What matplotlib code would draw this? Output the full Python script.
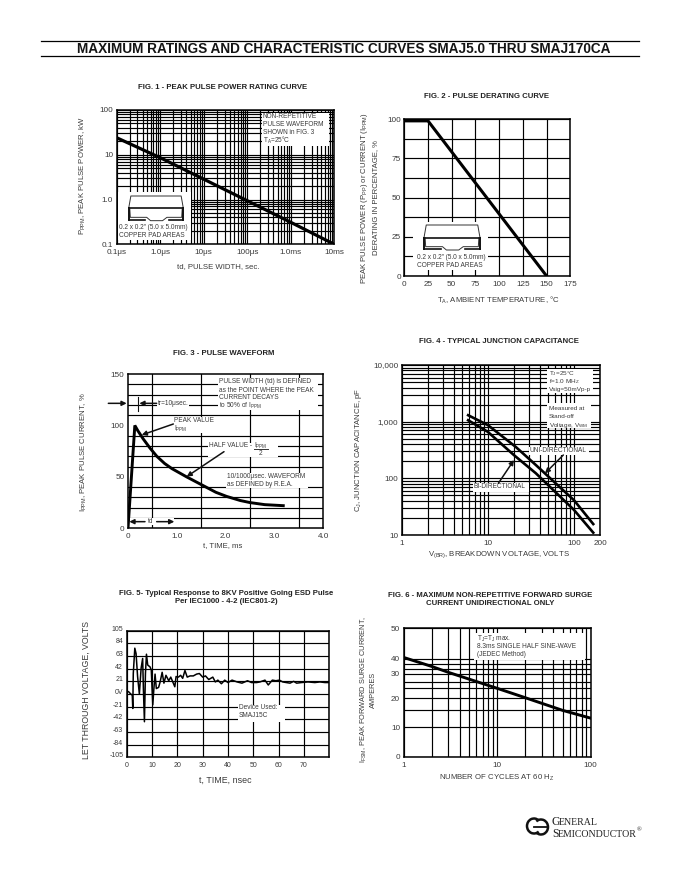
import numpy as np
import matplotlib
matplotlib.use("Agg")
import matplotlib.pyplot as plt
from matplotlib.patches import Rectangle, Arc
from matplotlib.ticker import NullFormatter, FixedLocator, LogLocator
from matplotlib.transforms import ScaledTranslation

plt.rcParams['font.family'] = ['Liberation Sans', 'DejaVu Sans']
plt.rcParams['mathtext.fontset'] = 'custom'
plt.rcParams['mathtext.rm'] = 'Liberation Sans'
plt.rcParams['mathtext.default'] = 'rm'

# ---------- data ----------
fig1_width_us = [0.1, 1.0, 10, 100, 1000, 10000]
fig1_power_kw = [24.0, 8.6, 2.85, 0.94, 0.31, 0.10]
fig1_xlabels = ['0.1μs', '1.0μs', '10μs', '100μs', '1.0ms', '10ms']
fig1_yticks = [0.1, 1, 10, 100]
fig1_ylabels = ['0.1', '1.0', '10', '100']

fig2_temp = [0, 25, 150]
fig2_pct = [99, 99, 0]
fig2_xticks = [0, 25, 50, 75, 100, 125, 150, 175]
fig2_yticks = [0, 25, 50, 75, 100]
fig2_ygrid = [12.5, 37.5, 62.5, 87.5]

fig3_t = [0, 0.14, 0.2, 0.31, 0.45, 0.59, 0.75, 0.9, 1.05, 1.2, 1.4, 1.54, 1.8, 2.02, 2.3, 2.5, 2.8, 3.18]
fig3_i = [0, 100, 95, 87, 78, 70, 63, 58, 54, 50, 45, 41.5, 35, 31, 27, 25, 23, 22]
fig3_xticks = [0, 1, 2, 3, 4]
fig3_xlabels = ['0', '1.0', '2.0', '3.0', '4.0']
fig3_yticks = [0, 50, 100, 150]
fig3_xgrid = [0.5, 1, 1.5, 2, 2.5, 3, 3.5]
fig3_ygrid = [10, 20, 30, 40, 50, 60, 70, 80, 90, 100, 110, 120, 130, 140]

fig4_v_uni = [5.9, 10, 21, 36, 100, 167]
fig4_c_uni = [1300, 870, 360, 172, 41, 15.6]
fig4_v_bi = [5.9, 10, 20, 36, 100, 167]
fig4_c_bi = [1060, 660, 258, 123, 27.6, 11]
fig4_xticks = [1, 10, 100, 200]
fig4_yticks = [10, 100, 1000, 10000]
fig4_ylabels = ['10', '100', '1,000', '10,000']

fig5_t = [0, 0.7, 1.6, 2.2, 2.4, 2.6, 3.2, 3.7, 4.3, 5.0, 5.7, 6.3, 6.6, 7.0, 7.4, 7.8, 8.3, 9.2, 9.7, 10.3,
          10.7, 11.2, 11.7, 12.6, 13.2, 14, 14.7, 15.5, 16.6, 17.4, 18.2, 19, 19.5, 20.4, 21.3, 22.1, 23, 23.9,
          25, 26.3, 27.6, 28.7, 30, 31.1, 32.4, 34, 35, 36, 37.4, 38.7, 40, 41.6, 43.6, 45.5, 47.7, 49.3, 51.3,
          52.6, 54.6, 55.9, 57.5, 58.9, 60.3, 61.6, 63, 64.5, 65.9, 67.1, 69, 71.6, 74.3, 76.3, 78.3, 80]
fig5_v = [4, 4, 0, -2, -24, 34, 76, 67, 29, 0, 43, 59, 7, -46, 34, 66, 48, 45, 40, -18,
          7, 33, 9, 11, 20, 36, 18, 31, 22, 28, 20, 12, 29, 28, 31, 26, 39, 28,
          30, 30, 33, 34, 28, 30, 24, 28, 20, 23, 17, 23, 19, 23, 20, 18, 22, 19, 19,
          20, 23, 15, 23, 22, 23, 20, 19, 18, 21, 18, 19, 20, 19, 20, 19, 19]
fig5_yticks = [-105, -84, -63, -42, -21, 0, 21, 42, 63, 84, 105]
fig5_ylabels = ['-105', '-84', '-63', '-42', '-21', '0V', '21', '42', '63', '84', '105']
fig5_xticks = [0, 10, 20, 30, 40, 50, 60, 70]

fig6_cycles = [1, 2, 3, 5, 10, 20, 50, 100]
fig6_amps = [40.5, 34.5, 31, 28, 25, 20.3, 15, 12.7]
fig6_yticks = [0, 10, 20, 30, 40, 50]
fig6_ygrid = [15, 20, 25, 27, 30, 33, 36, 40]
fig6_xticks = [1, 10, 100]
fig6_scale_values = [0, 10, 15, 20, 25, 27, 30, 33, 36, 40, 50]
fig6_scale_pos = [0, 88, 139, 175, 205, 225, 248, 263, 278, 293, 385]

TXT = '#3a3a3a'
W, H = 680, 880
fig = plt.figure(figsize=(W / 100, H / 100), dpi=100, facecolor='white')
ov = fig.add_axes([0, 0, 1, 1], zorder=10)
ov.set_xlim(0, W)
ov.set_ylim(H, 0)
ov.axis('off')
ov.patch.set_alpha(0)


def make_axes(left, top, right, bottom):
    ax = fig.add_axes([left / W, 1 - bottom / H, (right - left) / W, (bottom - top) / H])
    for s in ax.spines.values():
        s.set_linewidth(1.1)
    ax.set_axisbelow(True)
    ax.tick_params(which='both', length=0, labelsize=5.9, labelcolor=TXT, pad=2.5)
    ax.tick_params(axis='x', pad=3.5)
    return ax


def labels(ax, box, title, tp, xl, xp, yl, yp, fs=5.6, yfs=None, tfs=5.6):
    left, top, right, bottom = box
    ax.set_title(title, x=(tp[0] - left) / (right - left), y=(bottom - tp[1]) / (bottom - top),
                 va='center', ha='center', fontsize=tfs, fontweight='bold', color='#222222', linespacing=1.3)
    ax.set_xlabel(xl, fontsize=fs, color=TXT, va='center', ha='center')
    ax.set_ylabel(yl, fontsize=yfs or fs, color=TXT, va='center', ha='center', linespacing=1.25)
    ax.xaxis.set_label_coords(xp[0], xp[1], transform=ov.transData)
    ax.yaxis.set_label_coords(yp[0], yp[1], transform=ov.transData)


def P(org, x, y):
    return org[0] + x / 3, org[1] + y / 3


def box(org, x0, y0, x1, y1):
    a = P(org, x0, y0)
    b = P(org, x1, y1)
    ov.add_patch(Rectangle(a, b[0] - a[0], b[1] - a[1], fc='white', ec='none', zorder=2))


def note(org, x, y, s, fs=4.7, ha='left'):
    px, py = P(org, x, y)
    ov.text(px, py, s, fontsize=fs, color=TXT, ha=ha, va='center', zorder=4)


def arrow(org, a, b):
    ov.annotate('', xy=P(org, *b), xytext=P(org, *a),
                arrowprops=dict(arrowstyle='-|>', color='#111111', lw=1.1, mutation_scale=7,
                                shrinkA=0, shrinkB=0), zorder=5)


def package(org, x0, x1, ytop, ymid, ybot):
    w = x1 - x0
    pts = [(x0, ymid), (x0 + .04 * w, ytop), (x1 - .04 * w, ytop), (x1, ymid)]
    xy = [P(org, *p) for p in pts]
    ov.plot(*zip(*xy), color='#333333', lw=0.7, zorder=3, solid_capstyle='butt')
    pts = [(x0 + .02 * w, ymid), (x0 + .03 * w, ybot - 8), (x0 + .33 * w, ybot - 8), (x0 + .40 * w, ybot + 2),
           (x0 + .62 * w, ybot + 2), (x0 + .70 * w, ybot - 8), (x1 - .03 * w, ybot - 8), (x1 - .02 * w, ymid)]
    xy = [P(org, *p) for p in pts]
    ov.plot(*zip(*xy), color='#333333', lw=0.7, zorder=3)
    a = P(org, x0, ymid)
    b = P(org, x1, ymid)
    ov.plot([a[0], b[0]], [a[1], b[1]], color='#111111', lw=1.2, zorder=3)
    for xs in ((x0, x0 + .30 * w), (x1 - .27 * w, x1)):
        c = P(org, xs[0], ybot)
        d = P(org, xs[1], ybot)
        ov.plot([c[0], d[0]], [c[1], d[1]], color='#111111', lw=1.2, zorder=3)
    for xv in (x0, x1):
        c = P(org, xv, ymid)
        d = P(org, xv, ybot)
        ov.plot([c[0], d[0]], [c[1], d[1]], color='#111111', lw=1.4, zorder=3)


# header
ov.plot([41, 639], [41, 41], color='black', lw=0.9)
ov.plot([41, 639], [56, 56], color='black', lw=0.9)
ov.text(343.5, 49, 'MAXIMUM RATINGS AND CHARACTERISTIC CURVES SMAJ5.0 THRU SMAJ170CA',
        fontsize=9.85, fontweight='bold', color='#151515', ha='center', va='center')

# ---------- Fig 1 ----------
O1 = (70, 85)
b1 = (116.7, 110, 334.3, 244.3)
ax = make_axes(*b1)
ax.set_xscale('log')
ax.set_yscale('log')
ax.plot(fig1_width_us, fig1_power_kw, color='black', lw=2.3, solid_capstyle='butt', zorder=3)
ax.set_xlim(0.1, 10000)
ax.set_ylim(0.1, 100)
ax.set_xticks(fig1_width_us, fig1_xlabels)
ax.set_yticks(fig1_yticks, fig1_ylabels)
ax.xaxis.set_minor_locator(LogLocator(base=10, subs=range(2, 10), numticks=20))
ax.yaxis.set_minor_locator(LogLocator(base=10, subs=range(2, 10), numticks=20))
ax.xaxis.set_minor_formatter(NullFormatter())
ax.yaxis.set_minor_formatter(NullFormatter())
ax.grid(True, which='both', color='black', lw=0.85)
labels(ax, b1, 'FIG. 1 - PEAK PULSE POWER RATING CURVE', (223, 96),
       'td, PULSE WIDTH, sec.', (218, 267), 'P$_{\\mathrm{PPM}}$, PEAK PULSE POWER, kW', (83, 176))
box(O1, 575, 85, 778, 182)
for y, s in zip((95, 118, 143, 167), ('NON-REPETITIVE', 'PULSE WAVEFORM', 'SHOWN in FIG. 3', 'T$_{\\mathrm{A}}$=25°C')):
    note(O1, 578, y, s)
box(O1, 143, 322, 362, 465)
package(O1, 176, 340, 333, 370, 405)
note(O1, 147, 428, '0.2 x 0.2" (5.0 x 5.0mm)')
note(O1, 147, 452, 'COPPER PAD AREAS')

# ---------- Fig 2 ----------
O2 = (350, 90)
b2 = (404.3, 119.3, 570.3, 276)
ax = make_axes(*b2)
ax.plot(fig2_temp, fig2_pct, color='black', lw=2.2, solid_joinstyle='miter', solid_capstyle='butt', zorder=3)
ax.set_xlim(0, 175)
ax.set_ylim(0, 100)
ax.set_xticks(fig2_xticks)
ax.set_yticks(fig2_yticks)
ax.yaxis.set_minor_locator(FixedLocator(fig2_ygrid))
ax.grid(True, which='both', color='black', lw=0.85)
labels(ax, b2, 'FIG. 2 - PULSE DERATING CURVE', (487, 105),
       'T$_{\\mathrm{A}}$, AMBIENT TEMPERATURE, °C', (498, 300),
       'PEAK PULSE POWER (P$_{\\mathrm{PP}}$) or CURRENT (I$_{\\mathrm{PPM}}$)\nDERATING IN PERCENTAGE, %', (369, 198))
box(O2, 190, 395, 415, 540)
package(O2, 222, 390, 405, 443, 478)
note(O2, 303, 503, '0.2 x 0.2" (5.0 x 5.0mm)', ha='center')
note(O2, 298, 527, 'COPPER PAD AREAS', ha='center')

# ---------- Fig 3 ----------
O3 = (70, 350)
b3 = (128, 374, 323.3, 528.3)
ax = make_axes(*b3)
ax.plot(fig3_t, fig3_i, color='black', lw=2.1, solid_joinstyle='miter', zorder=3)
ax.set_xlim(0, 4)
ax.set_ylim(0, 150)
ax.set_xticks(fig3_xticks, fig3_xlabels)
ax.set_yticks(fig3_yticks)
ax.xaxis.set_minor_locator(FixedLocator(fig3_xgrid))
ax.yaxis.set_minor_locator(FixedLocator(fig3_ygrid))
ax.grid(True, which='minor', color='black', lw=0.85)
labels(ax, b3, 'FIG. 3 - PULSE WAVEFORM', (224, 362), 't, TIME, ms', (223, 546),
       'I$_{\\mathrm{PPM}}$, PEAK PULSE CURRENT, %', (84, 452))
box(O3, 445, 85, 745, 180)
for y, s in zip((95, 120, 143, 168), ('PULSE WIDTH (td) is DEFINED', 'as the POINT WHERE the PEAK',
                                      'CURRENT DECAYS', 'to 50% of I$_{\\mathrm{PPM}}$')):
    note(O3, 448, y, s)
box(O3, 262, 150, 358, 170)
note(O3, 265, 160, 'tr=10μsec.')
box(O3, 310, 200, 435, 250)
note(O3, 312, 212, 'PEAK VALUE')
note(O3, 312, 237, 'I$_{\\mathrm{PPM}}$')
box(O3, 415, 278, 625, 322)
note(O3, 416, 287, 'HALF VALUE -')
note(O3, 552, 287, 'I$_{\\mathrm{PPM}}$')
note(O3, 572, 311, '2', ha='center')
ov.plot(*zip(P(O3, 552, 298), P(O3, 595, 298)), color='#333333', lw=0.7, zorder=4)
box(O3, 468, 370, 715, 415)
note(O3, 470, 380, '10/1000μsec. WAVEFORM')
note(O3, 470, 404, 'as DEFINED by R.E.A.')
box(O3, 180, 505, 312, 525)
note(O3, 241, 515, 'td', ha='center')
arrow(O3, (115, 160), (170, 160))
arrow(O3, (260, 160), (208, 160))
ov.plot(*zip(P(O3, 205, 140), P(O3, 205, 182)), color='#111111', lw=0.8, zorder=5)
arrow(O3, (310, 222), (215, 255))
arrow(O3, (462, 305), (350, 380))
arrow(O3, (225, 515), (178, 515))
arrow(O3, (260, 515), (313, 515))

# ---------- Fig 4 ----------
O4 = (350, 340)
b4 = (401.7, 365, 600, 535)
ax = make_axes(*b4)
ax.set_xscale('log')
ax.set_yscale('log')
ax.plot(fig4_v_uni, fig4_c_uni, color='black', lw=1.9, zorder=3)
ax.plot(fig4_v_bi, fig4_c_bi, color='black', lw=1.9, zorder=3)
ax.set_xlim(1, 200)
ax.set_ylim(10, 10000)
ax.set_xticks(fig4_xticks, [str(v) for v in fig4_xticks])
ax.set_yticks(fig4_yticks, fig4_ylabels)
ax.xaxis.set_minor_locator(FixedLocator([v * d for d in (1, 10) for v in range(2, 10)]))
ax.yaxis.set_minor_locator(LogLocator(base=10, subs=range(2, 10), numticks=20))
ax.xaxis.set_minor_formatter(NullFormatter())
ax.yaxis.set_minor_formatter(NullFormatter())
ax.grid(True, which='both', color='black', lw=0.85)
labels(ax, b4, 'FIG. 4 - TYPICAL JUNCTION CAPACITANCE', (499, 350),
       'V$_{\\mathrm{(BR)}}$, BREAKDOWN VOLTAGE, VOLTS', (499, 555),
       'C$_{\\mathrm{J}}$, JUNCTION CAPACITANCE, pF', (359, 450))
box(O4, 590, 88, 730, 158)
box(O4, 590, 190, 722, 265)
for y, s in zip((100, 124, 148, 205, 230, 255),
                ('T$_{\\mathrm{J}}$=25°C', 'f=1.0 MH$_{\\mathrm{Z}}$', 'Vsig=50mVp-p',
                 'Measured at', 'Stand-off', 'Voltage, V$_{\\mathrm{WM}}$')):
    note(O4, 597, y, s, fs=4.6)
box(O4, 538, 320, 718, 345)
note(O4, 540, 332, 'UNI-DIRECTIONAL')
box(O4, 368, 428, 538, 455)
note(O4, 372, 440, 'BI-DIRECTIONAL')
arrow(O4, (640, 345), (585, 400))
arrow(O4, (445, 430), (492, 360))

# ---------- Fig 5 ----------
O5 = (70, 590)
b5 = (126.7, 630.7, 329.3, 757.3)
ax = make_axes(*b5)
ax.plot(fig5_t, fig5_v, color='black', lw=1.1, zorder=3)
ax.set_xlim(0, 80)
ax.set_ylim(-105, 105)
ax.set_xticks(fig5_xticks)
ax.set_yticks(fig5_yticks, fig5_ylabels)
ax.tick_params(labelsize=5)
for t in ax.get_yticklabels():
    t.set_transform(t.get_transform() + ScaledTranslation(0, 2.5 / 100, fig.dpi_scale_trans))
ax.xaxis.set_minor_locator(FixedLocator([80]))
ax.grid(True, which='both', color='black', lw=0.85)
labels(ax, b5, 'FIG. 5- Typical Response to 8KV Positive Going ESD Pulse\nPer IEC1000 - 4-2 (IEC801-2)', (226, 606),
       't, TIME, nsec', (225, 780), 'LET THROUGH VOLTAGE, VOLTS', (86, 690), fs=6.4, yfs=6.3, tfs=5.6)
box(O5, 505, 345, 645, 395)
note(O5, 507, 353, 'Device Used:')
note(O5, 507, 377, 'SMAJ15C')

# ---------- Fig 6 ----------
O6 = (350, 590)
b6 = (403.7, 628.3, 590.7, 756.7)
ax = make_axes(*b6)
ax.set_xscale('log')
ax.set_yscale('function', functions=(lambda v: np.interp(v, fig6_scale_values, fig6_scale_pos),
                                     lambda p: np.interp(p, fig6_scale_pos, fig6_scale_values)))
ax.plot(fig6_cycles, fig6_amps, color='black', lw=2.1, zorder=3)
ax.set_xlim(1, 100)
ax.set_ylim(0, 50)
ax.set_xticks(fig6_xticks, [str(v) for v in fig6_xticks])
ax.set_yticks(fig6_yticks)
ax.xaxis.set_minor_locator(LogLocator(base=10, subs=range(2, 10), numticks=20))
ax.xaxis.set_minor_formatter(NullFormatter())
ax.yaxis.set_minor_locator(FixedLocator(fig6_ygrid))
ax.yaxis.set_minor_formatter(NullFormatter())
ax.grid(True, which='both', color='black', lw=0.85)
labels(ax, b6, 'FIG. 6 - MAXIMUM NON-REPETITIVE FORWARD SURGE\nCURRENT UNIDIRECTIONAL ONLY', (490, 608),
       'NUMBER OF CYCLES AT 60 H$_{\\mathrm{Z}}$', (497, 778),
       'I$_{\\mathrm{FSM}}$, PEAK FORWARD SURGE CURRENT,\nAMPERES', (368, 690), yfs=5.3)
box(O6, 372, 130, 705, 210)
for y, s in zip((147, 170, 195), ('T$_{\\mathrm{J}}$=T$_{\\mathrm{J}}$ max.', '8.3ms SINGLE HALF SINE-WAVE',
                                  '(JEDEC Method)')):
    note(O6, 380, y, s)

# ---------- logo ----------
for cx, cy, a1, a2 in ((534, 826, 50, 310), (541, 827, 230, 490)):
    ov.add_patch(Arc((cx, cy), 14, 15, theta1=a1, theta2=a2, color='#111111', lw=1.8, zorder=4))
ov.plot([534, 547], [827, 827], color='#111111', lw=1.3, zorder=4)
ov.text(552, 822, 'G', fontsize=8.4, family='Liberation Serif', color='#222222', va='center')
ov.text(559, 822.6, 'ENERAL', fontsize=7.1, family='Liberation Serif', color='#222222', va='center')
ov.text(552, 834, 'S', fontsize=8.4, family='Liberation Serif', color='#222222', va='center')
ov.text(557.5, 834.6, 'EMICONDUCTOR', fontsize=7.1, family='Liberation Serif', color='#222222', va='center')
ov.text(636.5, 830, '®', fontsize=4.5, family='Liberation Serif', color='#222222', va='center')

fig.savefig('out.png', dpi=100)
